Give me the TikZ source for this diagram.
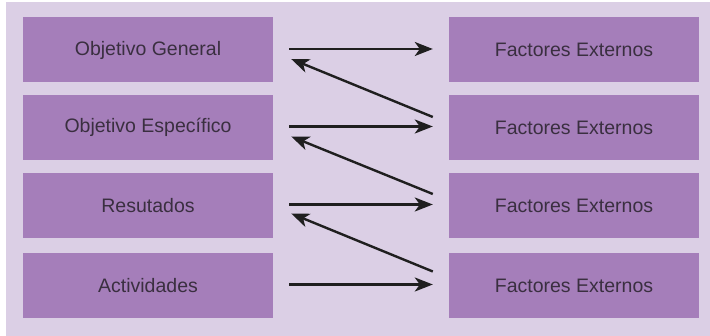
\documentclass[tikz,border=0pt]{standalone}
\usepackage{fontspec}
\setmainfont{Liberation Sans}
\usetikzlibrary{arrows.meta}
\definecolor{bgl}{RGB}{219,207,229}
\definecolor{boxp}{RGB}{165,126,186}
\definecolor{txt}{RGB}{58,47,64}
\begin{document}
\begin{tikzpicture}[x=1pt,y=-1pt,
  box/.style={fill=boxp,draw=none,minimum width=250pt,minimum height=65pt,inner sep=0pt,text=txt,font=\fontsize{19.5}{22}\selectfont},
  arr/.style={line width=2.4pt,draw=black!88,-{Stealth[length=18pt,width=14pt,inset=5pt]}}]
\useasboundingbox (0,0) rectangle (710,336);
\fill[white] (0,0) rectangle (710,336);
\fill[bgl] (6,2) rectangle (710,336);
\node[box] (l1) at (148,50) {Objetivo General};
\node[box] (l2) at (148,127.5) {Objetivo Específico};
\node[box] (l3) at (148,205.5) {Resutados};
\node[box] (l4) at (148,285.5) {Actividades};
\node[box] (r1) at (574,50) {Factores Externos};
\node[box] (r2) at (574,127.5) {Factores Externos};
\node[box] (r3) at (574,205.5) {Factores Externos};
\node[box] (r4) at (574,285.5) {Factores Externos};
\foreach \i in {1,2,3,4}{
  \draw[arr] ([xshift=16pt,yshift=1pt]l\i.east) -- ([xshift=-16pt,yshift=1pt]r\i.west);
}
\draw[arr] ([xshift=-16pt,yshift=10.5pt]r2.west) -- ([xshift=18pt,yshift=-9pt]l1.east);
\draw[arr] ([xshift=-16pt,yshift=11.5pt]r3.west) -- ([xshift=18pt,yshift=-9pt]l2.east);
\draw[arr] ([xshift=-16pt,yshift=14pt]r4.west) -- ([xshift=18pt,yshift=-8pt]l3.east);
\end{tikzpicture}
\end{document}
